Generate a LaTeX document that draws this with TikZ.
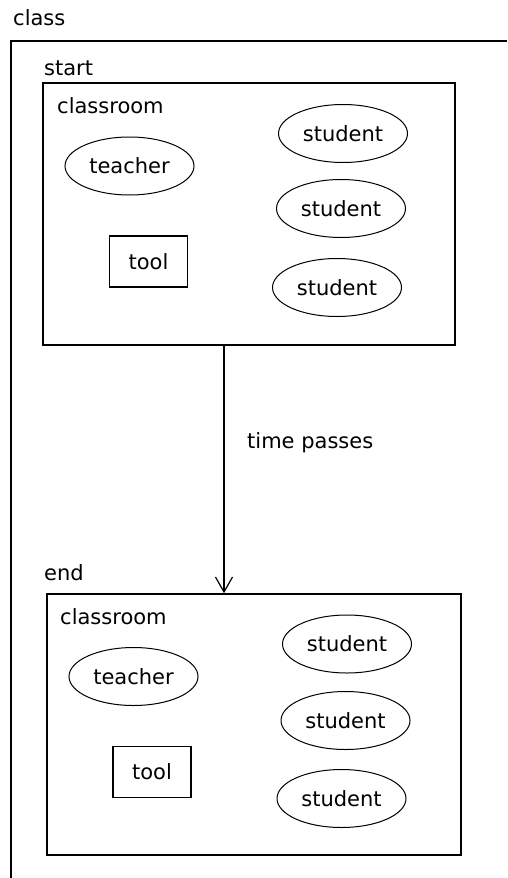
\documentclass[tikz,border=0pt]{standalone}
\usepackage{fontspec}
\setmainfont{DejaVu Sans}
\usepackage{tikz}
\usetikzlibrary{arrows.meta,positioning,shapes.geometric,calc}

\begin{document}
\begin{tikzpicture}[
        x=1pt, y=-1pt,
        font=\fontsize{21}{25}\selectfont,
        room/.style={draw, line width=1.5pt, inner sep=0pt},
        person/.style={
            draw, ellipse, line width=1pt, inner sep=0pt,
            minimum width=129pt, minimum height=58pt
        },
        thing/.style={
            draw, line width=1.2pt, inner sep=0pt,
            minimum width=78pt, minimum height=51pt
        },
        lbl/.style={anchor=base west, inner sep=0pt},
        msg/.style={-{Straight Barb[length=15pt,width=17pt]}, line width=1.2pt}
    ]

    \useasboundingbox (0,0) rectangle (507,878);

    % Outer frame: class
    \node[lbl] (classlbl) at (13,25) {class};
    \draw[line width=1.5pt] (507,41) -- (11,41) -- (11,878);

    % Start state
    \node[lbl] (startlbl) at (44,75) {start};
    \node[room, minimum width=412pt, minimum height=262pt] (room1) at (249,214) {};
    \node[lbl] (cr1) at (57,113) {classroom};
    \node[person] (teacher1) at (129.5,166) {teacher};
    \node[thing] (tool1) at (148.5,261.5) {tool};
    \node[person] (stuA1) at (343,133.5) {student};
    \node[person] (stuB1) at (341,208.5) {student};
    \node[person] (stuC1) at (337,287.5) {student};

    % End state
    \node[lbl] (endlbl) at (44,580) {end};
    \node[room, minimum width=414pt, minimum height=261pt] (room2) at (254,724.5) {};
    \node[lbl] (cr2) at (60,624) {classroom};
    \node[person] (teacher2) at (133.5,676.5) {teacher};
    \node[thing] (tool2) at (152,772) {tool};
    \node[person] (stuA2) at (347,644) {student};
    \node[person] (stuB2) at (345.5,720.5) {student};
    \node[person] (stuC2) at (341.5,798.5) {student};

    % Transition: start -> end
    \draw[msg] ([xshift=-25pt]room1.south) -- ([xshift=-30pt]room2.north);
    \node[lbl] (passlbl) at (247,448) {time passes};

\end{tikzpicture}
\end{document}
